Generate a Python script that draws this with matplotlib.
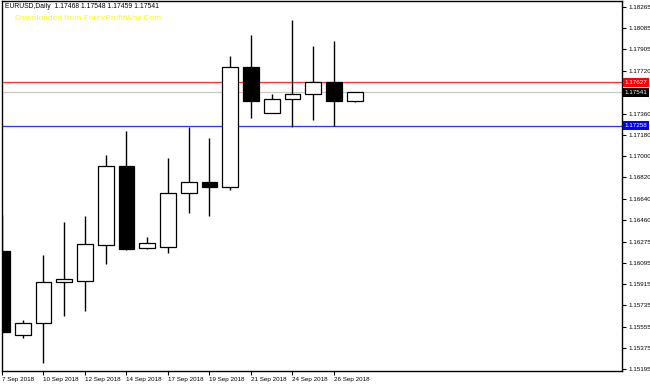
import matplotlib
matplotlib.use("Agg")
import matplotlib.pyplot as plt
import matplotlib.transforms as mtransforms
import numpy as np

dates = ["7 Sep", "9 Sep", "10 Sep", "11 Sep", "12 Sep", "13 Sep", "14 Sep", "16 Sep",
         "17 Sep", "18 Sep", "19 Sep", "20 Sep", "21 Sep", "23 Sep", "24 Sep", "25 Sep",
         "26 Sep", "27 Sep"]
opens  = [1.16196, 1.15483, 1.15585, 1.15933, 1.15941, 1.16247, 1.16917, 1.16221, 1.16230,
          1.16688, 1.16781, 1.16738, 1.17756, 1.17366, 1.17485, 1.17527, 1.17627, 1.17468]
highs  = [1.16501, 1.15610, 1.16162, 1.16442, 1.16492, 1.17010, 1.17213, 1.16314, 1.16984,
          1.17247, 1.17154, 1.17849, 1.18028, 1.17527, 1.18155, 1.17934, 1.17977, 1.17548]
lows   = [1.15500, 1.15458, 1.15246, 1.15644, 1.15687, 1.16085, 1.16204, 1.16213, 1.16179,
          1.16518, 1.16492, 1.16713, 1.17324, 1.17366, 1.17247, 1.17307, 1.17258, 1.17459]
closes = [1.15509, 1.15585, 1.15933, 1.15958, 1.16255, 1.16917, 1.16213, 1.16264, 1.16688,
          1.16781, 1.16738, 1.17756, 1.17468, 1.17485, 1.17527, 1.17627, 1.17468, 1.17541]

xtick_idx = [0, 2, 4, 6, 8, 10, 12, 14, 16]
xtick_labels = ["7 Sep 2018", "10 Sep 2018", "12 Sep 2018", "14 Sep 2018", "17 Sep 2018",
                "19 Sep 2018", "21 Sep 2018", "24 Sep 2018", "26 Sep 2018"]
ytick_vals = [1.18265, 1.18085, 1.17905, 1.17720, 1.17360, 1.17180, 1.17000, 1.16820,
              1.16640, 1.16460, 1.16275, 1.16095, 1.15915, 1.15735, 1.15555, 1.15375, 1.15195]

level_vals = [1.17627, 1.17541, 1.17258]
level_line_colors = ["#ff3030", "#c8c8c8", "#3030ff"]
level_box_colors = ["#ff0000", "#000000", "#0000ff"]

title_text = "EURUSD,Daily  1.17468 1.17548 1.17459 1.17541"
watermark = "Downloaded from ForexProfitWay.Com"

FONT = ["Liberation Sans", "DejaVu Sans"]
FS = 4.5

fig = plt.figure(figsize=(6.5, 3.85), dpi=100)
fig.patch.set_facecolor("white")
ax = fig.add_axes([2 / 650, 14 / 385, 620 / 650, 370 / 385])
ax.set_facecolor("white")

x = np.arange(len(dates))
o = np.array(opens); c = np.array(closes); h = np.array(highs); l = np.array(lows)

ax.vlines(x, l, h, color="black", lw=1.0, zorder=2)
bull = c >= o
bottoms = np.minimum(o, c)
heights = np.abs(c - o)
ax.bar(x[bull], heights[bull], bottom=bottoms[bull], width=0.75,
       facecolor="white", edgecolor="black", linewidth=0.9, zorder=3)
ax.bar(x[~bull], heights[~bull], bottom=bottoms[~bull], width=0.75,
       facecolor="black", edgecolor="black", linewidth=0.9, zorder=3)

for v, lc in zip(level_vals, level_line_colors):
    ax.axhline(v, color=lc, lw=0.9, zorder=1)

ax.set_xlim(0, 29.88)
ax.set_ylim(1.15178, 1.18316)

for s in ax.spines.values():
    s.set_color("black")
    s.set_linewidth(1.0)

ax.yaxis.tick_right()
ax.set_yticks(ytick_vals)
ax.set_yticklabels([f"{v:.5f}" for v in ytick_vals], fontsize=FS, family=FONT)
ax.tick_params(axis="y", direction="out", length=3, width=0.8, pad=1.5, colors="black")

ax.set_xticks(xtick_idx)
ax.set_xticklabels(xtick_labels, fontsize=FS, family=FONT, ha="left")
ax.tick_params(axis="x", direction="out", length=3, width=0.8, pad=1.0, colors="black")

trans = mtransforms.blended_transform_factory(ax.transAxes, ax.transData)
for v, bc in zip(level_vals, level_box_colors):
    ax.text(1.0045, v, f"{v:.5f}", transform=trans, fontsize=FS, family=FONT,
            color="white", ha="left", va="center", clip_on=False, zorder=10,
            bbox=dict(boxstyle="square,pad=0.3", fc=bc, ec="none"))

fig.text(5 / 650, 1 - 7 / 385, title_text, fontsize=4.9, family=FONT,
         color="black", ha="left", va="center")
fig.text(15 / 650, 1 - 18 / 385, watermark, fontsize=6.0,
         family=FONT, color="#ffff00", ha="left", va="center")

fig.savefig("out.png", dpi=100, facecolor="white")
